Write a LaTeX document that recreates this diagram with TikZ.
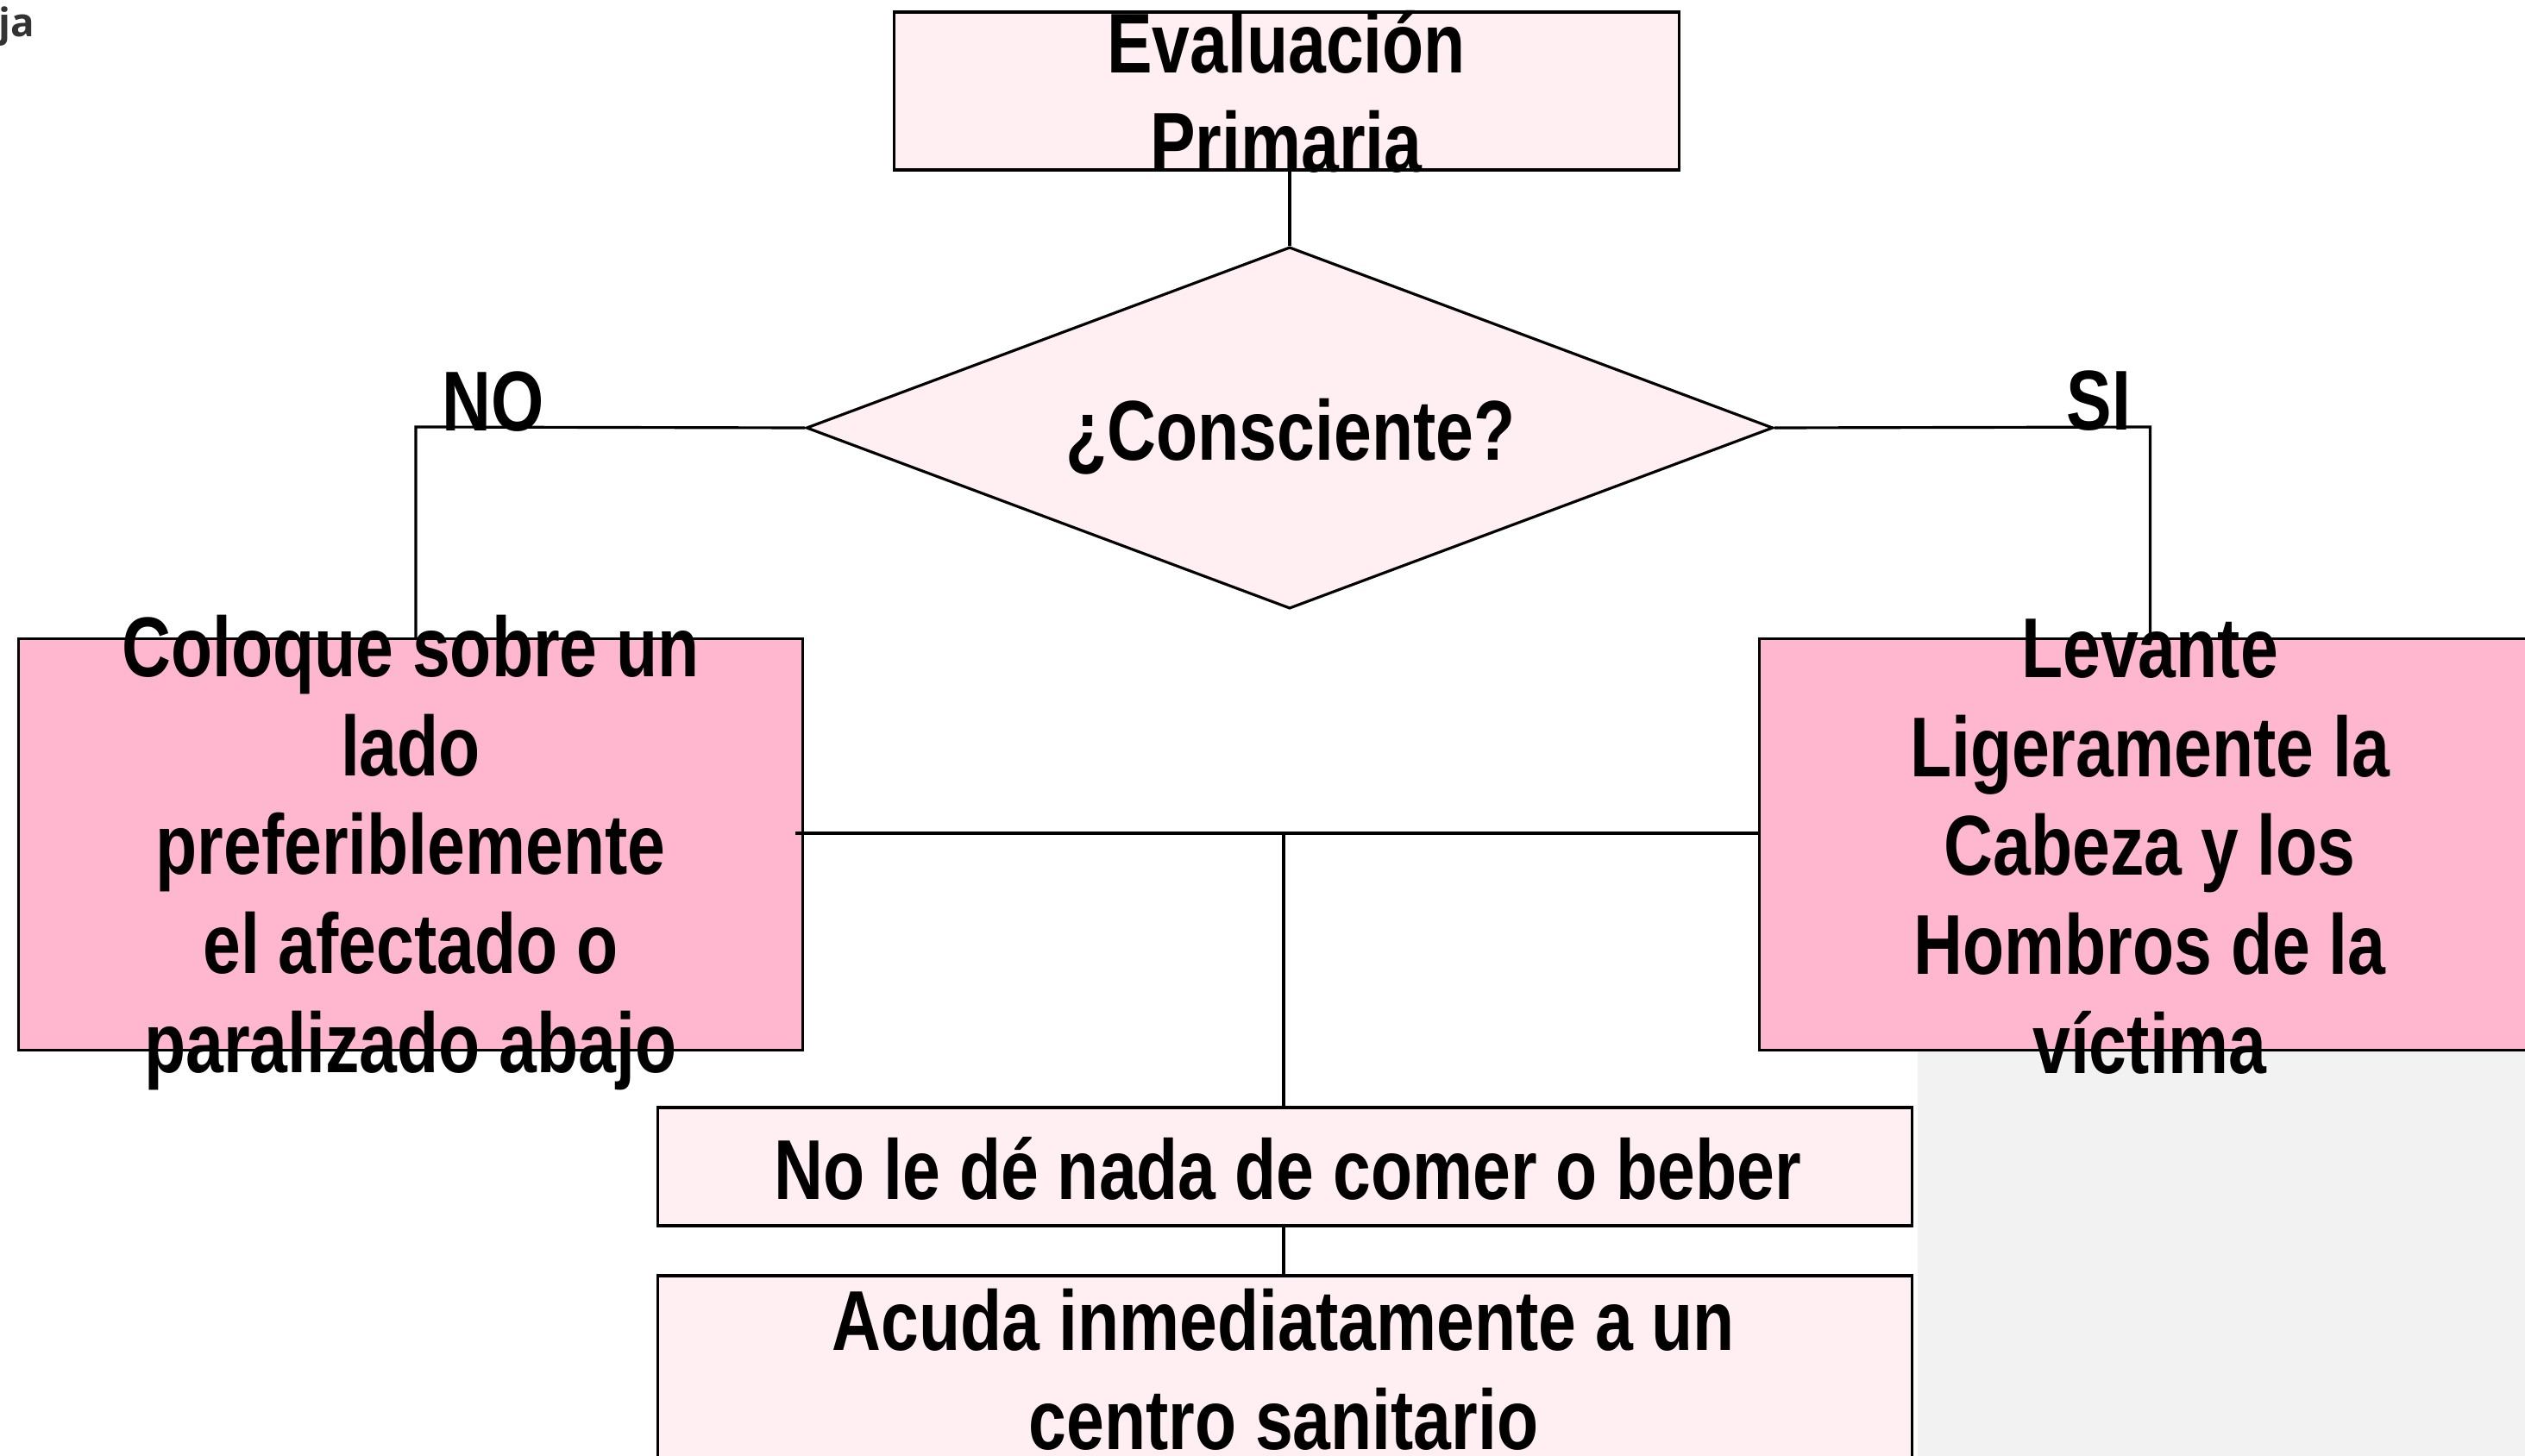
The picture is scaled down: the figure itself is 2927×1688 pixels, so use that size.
\documentclass[tikz,border=0pt]{standalone}
\usepackage{fontspec}
\usetikzlibrary{shapes.geometric}
\newfontfamily\nb{Liberation Sans}[FakeStretch=0.8]
\newfontfamily\osb{Open Sans}
\definecolor{lightpink}{HTML}{FFEEF2}
\definecolor{midpink}{HTML}{FFB7CF}
\definecolor{greybg}{HTML}{F2F2F2}
\definecolor{darktext}{HTML}{333333}
\newcommand{\mylines}[1]{\vtop{\baselineskip=32.7pt\lineskiplimit=-30pt\lineskip=0pt\halign{\hfil##\hfil\cr#1\crcr}}}
\begin{document}
\begin{tikzpicture}[x=0.01cm,y=-0.01cm,
  boxl/.style={draw,line width=0.9pt,fill=lightpink,inner sep=0pt,rectangle},
  boxd/.style={draw,line width=0.9pt,fill=midpink,inner sep=0pt,rectangle},
  conn/.style={line width=0.9pt},
  txt/.style={font=\nb\bfseries\fontsize{28pt}{32.7pt}\selectfont,inner sep=0pt,anchor=base}]
\useasboundingbox (0,0) rectangle (2927,1688);
\fill[greybg] (2223,1150) rectangle (2927,1688);
% boxes
\node[boxl,minimum width=9.09cm,minimum height=1.83cm] (top) at (1491.5,105.5) {};
\node[diamond,draw,line width=0.9pt,fill=lightpink,inner sep=0pt,minimum width=11.2cm,minimum height=4.19cm] (q) at (1495,496) {};
\node[boxd,minimum width=9.08cm,minimum height=4.76cm] (lb) at (476,979) {};
\node[boxd,minimum width=9.05cm,minimum height=4.76cm] (rb) at (2492.5,979) {};
\node[boxl,minimum width=14.53cm,minimum height=1.37cm] (nb) at (1489.5,1352.5) {};
\node[boxl,minimum width=14.53cm,minimum height=2.41cm] (ab) at (1489.5,1599.5) {};
% connectors
\coordinate (nocorner) at (482,495);
\coordinate (sicorner) at (2492.5,495);
\coordinate (hl) at (922,966);
\coordinate (hj) at (1488,966);
\draw[conn] (q.north) -- (q.north |- top.south);
\draw[conn] (q.west) -- (nocorner) -- (nocorner |- lb.north);
\draw[conn] (q.east) -- (sicorner) -- (rb.north);
\draw[conn,line width=1.1pt] (hl) -- (hl -| rb.west);
\draw[conn] (hj) -- (hj |- nb.north);
\draw[conn] (nb.south -| hj) -- (ab.north -| hj);
% texts
\node[txt] (toptext) at (1491,85) {\mylines{Evaluación\cr Primaria}};
\node[txt] (qtext) at (1496,533) {¿Consciente?};
\node[txt] (notext) at (572,499) {NO};
\node[txt] (sitext) at (2433,498) {SI};
\node[txt] (lbtext) at (476,784) {\mylines{Coloque sobre un\cr lado\cr preferiblemente\cr el afectado o\cr paralizado abajo}};
\node[txt] (rbtext) at (2492,785) {\mylines{Levante\cr Ligeramente la\cr Cabeza y los\cr Hombros de la\cr víctima}};
\node[txt] (nbtext) at (1493,1390) {No le dé nada de comer o beber};
\node[txt] (abtext) at (1488,1565) {\mylines{Acuda inmediatamente a un\cr centro sanitario}};
\node[font=\osb\bfseries\fontsize{13pt}{15pt}\selectfont,text=darktext,inner sep=0pt,anchor=base west] (ja) at (-2,43) {ja};
\end{tikzpicture}
\end{document}
